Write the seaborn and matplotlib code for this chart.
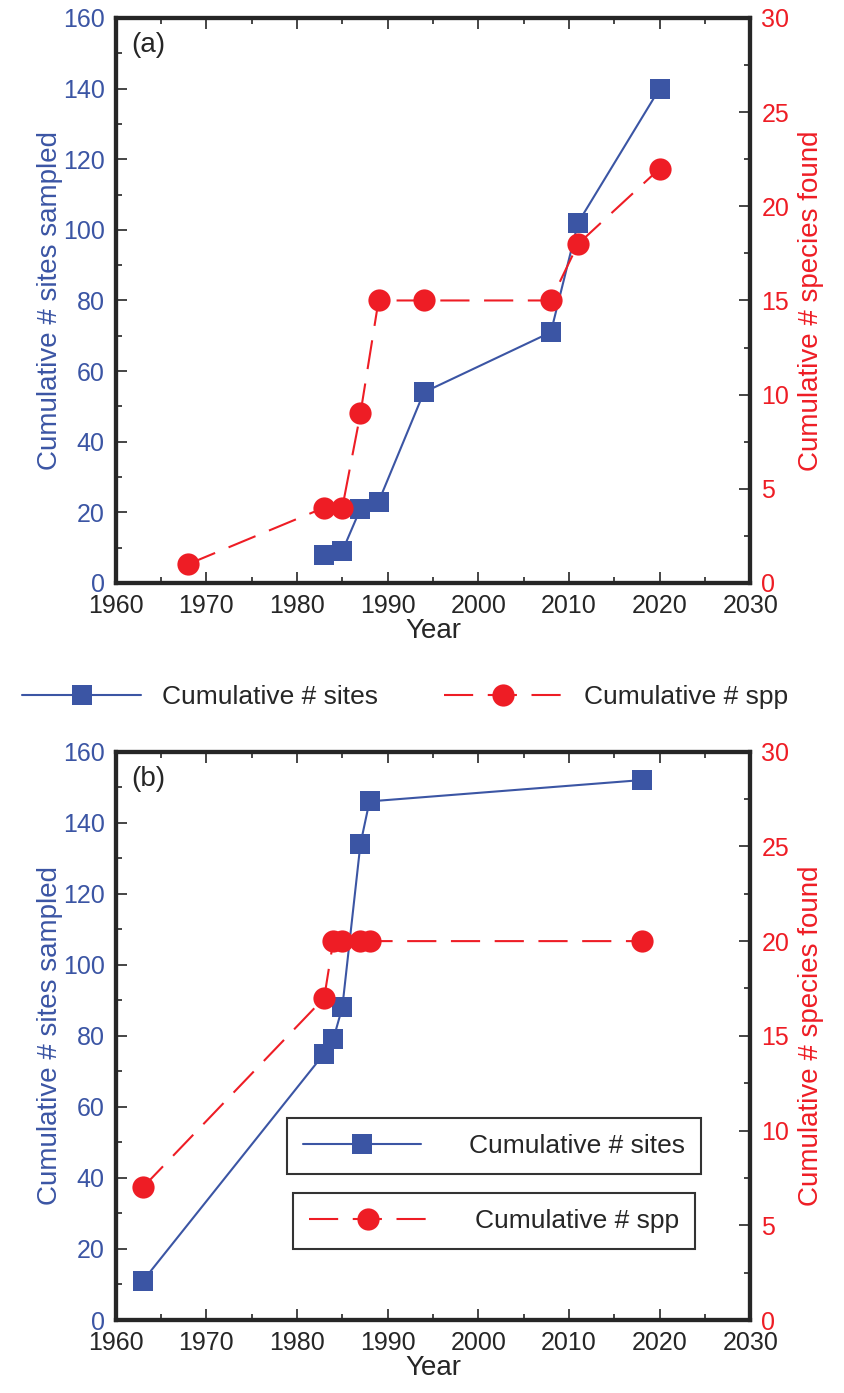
import matplotlib
matplotlib.use("Agg")
import matplotlib.pyplot as plt
import seaborn as sns
from matplotlib.lines import Line2D
from matplotlib.ticker import MultipleLocator

sns.set_style("ticks")
plt.rcParams['font.family'] = ['Liberation Sans', 'DejaVu Sans']

BLUE = "#3b55a4"
RED = "#ee1d25"

# panel (a)
a_site_years = [1983, 1985, 1987, 1989, 1994, 2008, 2011, 2020]
a_sites = [8, 9, 21, 23, 54, 71, 102, 140]
a_spp_years = [1968, 1983, 1985, 1987, 1989, 1994, 2008, 2011, 2020]
a_spp = [1, 4, 4, 9, 15, 15, 15, 18, 22]

# panel (b)
b_site_years = [1963, 1983, 1984, 1985, 1987, 1988, 2018]
b_sites = [11, 75, 79, 88, 134, 146, 152]
b_spp_years = [1963, 1983, 1984, 1985, 1987, 1988, 2018]
b_spp = [7, 17, 20, 20, 20, 20, 20]

DASH = [14, 7]

fig = plt.figure(figsize=(8.44, 13.93), dpi=100)
boxes = [[0.137, 0.5815, 0.752, 0.4056], [0.137, 0.0524, 0.752, 0.408]]
panels = [(a_site_years, a_sites, a_spp_years, a_spp, "(a)"),
          (b_site_years, b_sites, b_spp_years, b_spp, "(b)")]

for box, (sy, sv, py, pv, tag) in zip(boxes, panels):
    ax = fig.add_axes(box)
    ax2 = ax.twinx()
    sns.lineplot(x=sy, y=sv, ax=ax, color=BLUE, marker="s", markersize=15,
                 markeredgewidth=0, linewidth=1.5)
    sns.lineplot(x=py, y=pv, ax=ax2, color=RED, marker="o", markersize=16,
                 markeredgewidth=0, linewidth=1.5)
    ax2.lines[0].set_dashes(DASH)
    ax.set_xlim(1960, 2030)
    ax.set_ylim(0, 160)
    ax2.set_ylim(0, 30)
    ax.xaxis.set_major_locator(MultipleLocator(10))
    ax.xaxis.set_minor_locator(MultipleLocator(5))
    ax.yaxis.set_major_locator(MultipleLocator(20))
    ax.yaxis.set_minor_locator(MultipleLocator(10))
    ax2.yaxis.set_major_locator(MultipleLocator(5))
    ax2.yaxis.set_minor_locator(MultipleLocator(2.5))
    for a in (ax, ax2):
        for s in a.spines.values():
            s.set_linewidth(3)
            s.set_visible(True)
        a.tick_params(which="both", direction="in", width=1.2)
        a.tick_params(which="major", length=8, pad=8)
        a.tick_params(which="minor", length=4)
    ax.tick_params(axis="y", labelsize=18, labelcolor=BLUE)
    ax.tick_params(axis="x", labelsize=18, top=True, which="both")
    ax2.tick_params(axis="y", labelsize=18, labelcolor=RED)
    ax.set_xlabel("Year", fontsize=20, labelpad=0)
    ax.set_ylabel("Cumulative # sites sampled", fontsize=20, color=BLUE, labelpad=0)
    ax2.set_ylabel("Cumulative # species found", fontsize=20, color=RED, labelpad=6)
    ax.text(0.025, 0.975, tag, transform=ax.transAxes, fontsize=20, va="top")

h_site = Line2D([], [], color=BLUE, marker="s", markersize=15, markeredgewidth=0, linewidth=1.5)
h_spp = Line2D([], [], color=RED, marker="o", markersize=16, markeredgewidth=0,
               linewidth=1.5, dashes=DASH)

fig.legend([h_site, h_spp], ["Cumulative # sites", "Cumulative # spp"], ncol=2,
           loc="center", bbox_to_anchor=(0.48, 0.4995), frameon=False, fontsize=19,
           handlelength=4.5, columnspacing=2.5)
for handle, label, y in [(h_site, "Cumulative # sites", 0.1775), (h_spp, "Cumulative # spp", 0.1235)]:
    leg = fig.legend([handle], [label], loc="center", bbox_to_anchor=(0.585, y),
                     fontsize=19, handlelength=4.5, fancybox=False, edgecolor="black",
                     borderpad=0.6, handletextpad=1.8)
    leg.get_frame().set_linewidth(1.5)

fig.savefig("out.png", dpi=100)
